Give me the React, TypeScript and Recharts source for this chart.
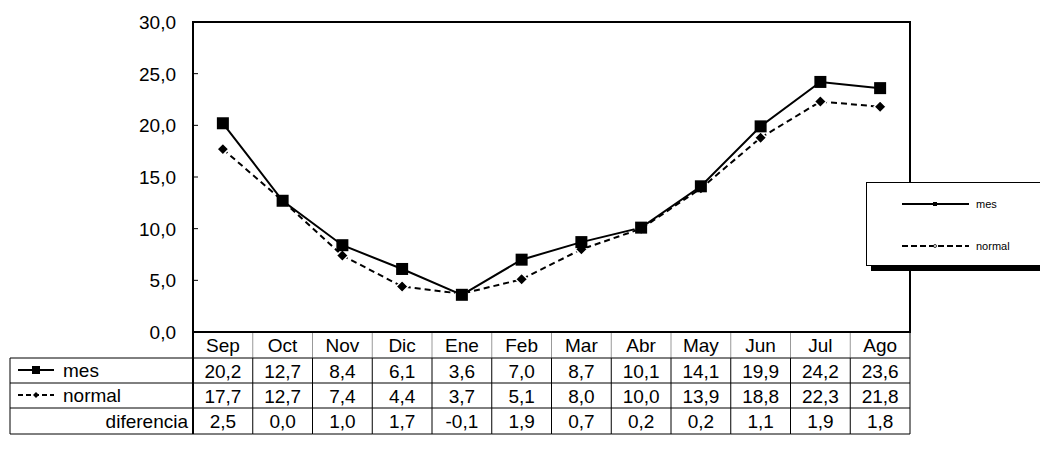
import React from "react";
import { LineChart, Line, XAxis, YAxis } from "recharts";

const months = ["Sep", "Oct", "Nov", "Dic", "Ene", "Feb", "Mar", "Abr", "May", "Jun", "Jul", "Ago"];
const mes = [20.2, 12.7, 8.4, 6.1, 3.6, 7.0, 8.7, 10.1, 14.1, 19.9, 24.2, 23.6];
const normal = [17.7, 12.7, 7.4, 4.4, 3.7, 5.1, 8.0, 10.0, 13.9, 18.8, 22.3, 21.8];
const diferencia = [2.5, 0.0, 1.0, 1.7, -0.1, 1.9, 0.7, 0.2, 0.2, 1.1, 1.9, 1.8];
const yTicks = [0, 5, 10, 15, 20, 25, 30];

const data = months.map((m, i) => ({ month: m, mes: mes[i], normal: normal[i], diferencia: diferencia[i] }));

const fmt = (v: number) => v.toFixed(1).replace(".", ",");
const FONT = "'Liberation Sans', Arial, sans-serif";
const FS = 19;

const COL_W = 717 / 12;
const ROW_Y = [0, 26, 51, 76, 102]; // row borders below the axis
const LABEL_W = 183;

const Square = ({ cx, cy, s }: any) => (
  <rect x={cx - s / 2} y={cy - s / 2} width={s} height={s} fill="#000" />
);
const Diamond = ({ cx, cy, s, stroke }: any) => (
  <path
    d={`M${cx},${cy - s / 2}L${cx + s / 2},${cy}L${cx},${cy + s / 2}L${cx - s / 2},${cy}Z`}
    fill="#000"
    stroke={stroke || "none"}
    strokeWidth={1.5}
  />
);

const TableColumn = (props: any) => {
  const { x, y, index } = props;
  const l = x - COL_W / 2;
  const r = x + COL_W / 2;
  const vals = [months[index], fmt(mes[index]), fmt(normal[index]), fmt(diferencia[index])];
  return (
    <g fontFamily={FONT} fontSize={FS}>
      {vals.map((v, i) => (
        <text
          key={i}
          x={x}
          y={y + (ROW_Y[i] + ROW_Y[i + 1]) / 2 + 7}
          textAnchor="middle"
          fill="#000"
        >
          {v}
        </text>
      ))}
      {/* header separators (grey), body separators (black) */}
      <line x1={r} y1={y} x2={r} y2={y + ROW_Y[1]} stroke={index === 11 ? "#000" : "#999"} strokeWidth={1} />
      <line x1={r} y1={y + ROW_Y[1]} x2={r} y2={y + ROW_Y[4]} stroke="#000" strokeWidth={1} />
      {[1, 2, 3, 4].map((k) => (
        <line key={k} x1={l} y1={y + ROW_Y[k]} x2={r} y2={y + ROW_Y[k]} stroke="#000" strokeWidth={1} />
      ))}
      {index === 0 && (
        <g>
          <line x1={l} y1={y} x2={l} y2={y + ROW_Y[4]} stroke="#000" strokeWidth={2} />
          <line x1={l - LABEL_W} y1={y + ROW_Y[1]} x2={l - LABEL_W} y2={y + ROW_Y[4]} stroke="#000" strokeWidth={1} />
          {[1, 2, 3, 4].map((k) => (
            <line key={k} x1={l - LABEL_W} y1={y + ROW_Y[k]} x2={l} y2={y + ROW_Y[k]} stroke="#000" strokeWidth={1} />
          ))}
          {/* mes row label */}
          <line x1={l - LABEL_W + 8} y1={y + 38} x2={l - LABEL_W + 44} y2={y + 38} stroke="#000" strokeWidth={2} />
          <Square cx={l - LABEL_W + 26} cy={y + 38} s={8} />
          <text x={l - LABEL_W + 53} y={y + 45} fill="#000">mes</text>
          {/* normal row label */}
          <line x1={l - LABEL_W + 8} y1={y + 63} x2={l - LABEL_W + 44} y2={y + 63} stroke="#000" strokeWidth={2} strokeDasharray="5 3" />
          <Diamond cx={l - LABEL_W + 26} cy={y + 63} s={6} />
          <text x={l - LABEL_W + 53} y={y + 70} fill="#000">normal</text>
          <text x={l - 5} y={y + 96} textAnchor="end" fill="#000">diferencia</text>
        </g>
      )}
    </g>
  );
};

const YTick = (props: any) => {
  const { x, y, payload } = props;
  return (
    <g>
      <text x={x - 17} y={y + 7} textAnchor="end" fontFamily={FONT} fontSize={FS} fill="#000">
        {fmt(payload.value)}
      </text>
      <line x1={x} y1={y} x2={x + 5} y2={y} stroke="#000" strokeWidth={1} />
    </g>
  );
};

const LegendBox = () => (
  <div
    style={{
      position: "absolute",
      left: 866,
      top: 182,
      width: 180,
      height: 84,
      background: "#fff",
      border: "1px solid #000",
      boxShadow: "5px 5px 0 #000",
      boxSizing: "border-box",
    }}
  >
    <svg width={180} height={84} style={{ position: "absolute", left: 0, top: 0 }}>
      <line x1={35} y1={21} x2={102} y2={21} stroke="#000" strokeWidth={2} />
      <rect x={66} y={19} width={4} height={4} fill="#000" />
      <text x={109} y={25} fontFamily={FONT} fontSize={11} fill="#000">mes</text>
      <line x1={35} y1={63} x2={102} y2={63} stroke="#000" strokeWidth={2} strokeDasharray="6 3" />
      <circle cx={68} cy={63} r={1.5} fill="#fff" stroke="#000" strokeWidth={0.8} />
      <text x={109} y={67} fontFamily={FONT} fontSize={11} fill="#000">normal</text>
    </svg>
  </div>
);

export default function App() {
  return (
    <div style={{ position: "absolute", left: 0, top: 0, width: 1040, height: 455, background: "#fff", overflow: "hidden" }}>
      <LineChart width={1040} height={455} data={data} margin={{ top: 22, right: 130, left: 0, bottom: 23 }}>
        <XAxis
          dataKey="month"
          height={100}
          padding={{ left: COL_W / 2, right: COL_W / 2 }}
          axisLine={{ stroke: "#000", strokeWidth: 2 }}
          tickLine={false}
          tickSize={0}
          tickMargin={0}
          interval={0}
          tick={<TableColumn />}
        />
        <YAxis
          width={193}
          domain={[0, 30]}
          ticks={yTicks}
          interval={0}
          axisLine={{ stroke: "#000", strokeWidth: 2 }}
          tickLine={false}
          tickSize={0}
          tickMargin={0}
          tick={<YTick />}
        />
        <Line
          dataKey="normal"
          stroke="#000"
          strokeWidth={2}
          strokeDasharray="6 4"
          isAnimationActive={false}
          dot={(p: any) => <Diamond key={p.index} cx={p.cx} cy={p.cy} s={12} stroke="#fff" />}
        />
        <Line
          dataKey="mes"
          stroke="#000"
          strokeWidth={2}
          isAnimationActive={false}
          dot={(p: any) => <Square key={p.index} cx={p.cx} cy={p.cy} s={12} />}
        />
      </LineChart>
      {/* plot frame */}
      <div
        style={{
          position: "absolute",
          left: 192,
          top: 21,
          width: 719,
          height: 312,
          border: "2px solid #000",
          boxSizing: "border-box",
          pointerEvents: "none",
        }}
      />
      <LegendBox />
    </div>
  );
}
